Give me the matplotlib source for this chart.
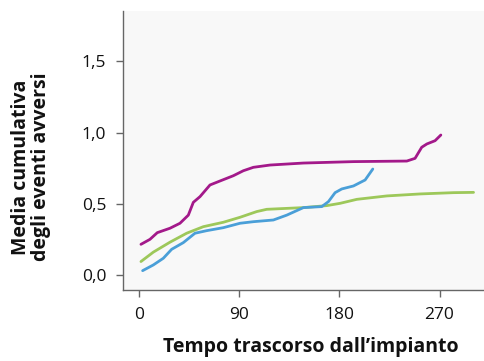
import matplotlib
matplotlib.use("Agg")
import matplotlib.pyplot as plt
from matplotlib.ticker import FuncFormatter

magenta_x = [1.5, 9.6, 16.2, 27.6, 36.6, 44.1, 48.6, 54.6, 63.6, 72.6, 84.6, 93.6, 102.6, 117.6, 147.6, 192.6, 240.6, 248, 254, 258.6, 266, 271.2]
magenta_y = [0.215, 0.25, 0.297, 0.328, 0.363, 0.42, 0.51, 0.55, 0.632, 0.66, 0.697, 0.732, 0.756, 0.772, 0.786, 0.796, 0.80, 0.819, 0.897, 0.92, 0.943, 0.983]

blue_x = [3, 12.6, 21.6, 29.1, 39.6, 50.1, 60.6, 75.6, 90.6, 102.6, 120.6, 132.6, 147.6, 164.1, 170.1, 176.1, 182.1, 192.6, 203.1, 210]
blue_y = [0.03, 0.07, 0.117, 0.18, 0.227, 0.293, 0.311, 0.332, 0.363, 0.374, 0.386, 0.42, 0.473, 0.48, 0.515, 0.578, 0.604, 0.625, 0.667, 0.744]

green_x = [1.5, 12.6, 27.6, 42.6, 57.6, 75.6, 90.6, 105.6, 114.6, 147.6, 168.6, 180.6, 195.6, 222.6, 252.6, 282.6, 300.6]
green_y = [0.094, 0.16, 0.23, 0.293, 0.339, 0.37, 0.405, 0.445, 0.461, 0.473, 0.487, 0.503, 0.531, 0.555, 0.569, 0.578, 0.58]

xticks = [0, 90, 180, 270]
yticks = [0.0, 0.5, 1.0, 1.5]

plt.rcParams['font.family'] = ['Open Sans', 'DejaVu Sans']

fig = plt.figure(figsize=(4.84, 3.61), dpi=100)
ax = fig.add_axes([0.254, 0.197, 0.746, 0.7725])
ax.set_facecolor('#f8f8f8')

lw = 2.0
ax.plot(magenta_x, magenta_y, color='#a3198a', lw=lw, solid_capstyle='round', solid_joinstyle='round')
ax.plot(green_x, green_y, color='#9dc85a', lw=lw, solid_capstyle='round', solid_joinstyle='round')
ax.plot(blue_x, blue_y, color='#4a9fd8', lw=lw, solid_capstyle='round', solid_joinstyle='round')

ax.set_xlim(-14.7, 310)
ax.set_ylim(-0.105, 1.854)
ax.set_xticks(xticks)
ax.set_yticks(yticks)
ax.yaxis.set_major_formatter(FuncFormatter(lambda v, p: f"{v:.1f}".replace('.', ',')))

for s in ['top', 'right']:
    ax.spines[s].set_visible(False)
for s in ['left', 'bottom']:
    ax.spines[s].set_color('#666666')
    ax.spines[s].set_linewidth(1.0)
ax.tick_params(axis='both', colors='#666666', length=5, width=1, labelsize=12.5, labelcolor='#111111', pad=7)

ax.set_xlabel("Tempo trascorso dall’impianto", fontsize=14, fontweight='bold', color='#111111')
ax.xaxis.set_label_coords(0.52, -0.17)
ax.set_ylabel("Media cumulativa\ndegli eventi avversi", fontsize=14, fontweight='bold', color='#111111', linespacing=1.0)
ax.yaxis.set_label_coords(-0.2, 0.44)

fig.savefig("out.png", dpi=100)
